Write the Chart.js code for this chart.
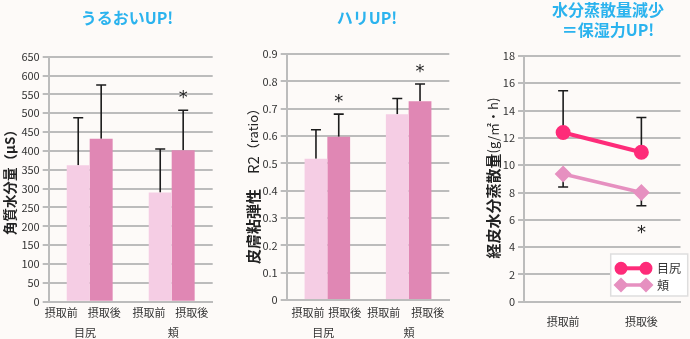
<!DOCTYPE html>
<html lang="ja">
<head>
<meta charset="utf-8">
<title>摂取前後の肌測定</title>
<script src="https://cdn.jsdelivr.net/npm/chart.js@4.4.1/dist/chart.umd.min.js"></script>
<style>
  html, body { margin: 0; padding: 0; background: #fdfaf8; }
  .row { display: flex; width: 690px; height: 339px; overflow: hidden; }
  .panel { width: 230px; height: 339px; }
  canvas { display: block; }
</style>
</head>
<body>
<div class="row">
  <div class="panel"><canvas id="moistChart" width="230" height="339"></canvas></div>
  <div class="panel"><canvas id="firmChart" width="230" height="339"></canvas></div>
  <div class="panel"><canvas id="tewlChart" width="230" height="339"></canvas></div>
</div>
<script>
const groups = ['目尻', '頬'];
const phases = ['摂取前', '摂取後'];

// 角質水分量 (μS)
const moistBefore = [362, 290];
const moistAfter = [432, 402];
const moistBeforeErr = [126, 115];
const moistAfterErr = [143, 106];
const moistBeforeSig = [false, false];
const moistAfterSig = [false, true];
const moistMax = 650;
const moistStep = 50;

// 皮膚粘弾性 R2 (ratio)
const firmBefore = [0.517, 0.68];
const firmAfter = [0.597, 0.727];
const firmBeforeErr = [0.106, 0.057];
const firmAfterErr = [0.083, 0.063];
const firmBeforeSig = [false, false];
const firmAfterSig = [true, true];
const firmMax = 0.9;
const firmStep = 0.1;

// 経皮水分蒸散量 (g/㎡・h)
const tewlEye = [12.4, 10.95];
const tewlCheek = [9.35, 8.0];
const tewlEyeErr = [3.05, 2.55];
const tewlCheekErr = [-0.95, -0.97];
const tewlEyeSig = [false, false];
const tewlCheekSig = [false, true];
const tewlMax = 18;
const tewlStep = 2;

const LIGHT = '#f5cde4';
const DARK = '#e087b4';
const EYE = '#fe2b79';
const CHEEK = '#e690c0';
const GRID = '#bcbcbc';
const INK = '#333333';
const HEAD = '#2bb3ee';
const JP = "'Noto Sans CJK JP', 'Noto Sans', sans-serif";

Chart.defaults.font.family = JP;
Chart.defaults.color = INK;

// vertical title made of runs with different weight / size
function drawSideTitle(ctx, x, cy, runs) {
  ctx.save();
  ctx.translate(x, cy);
  ctx.rotate(-Math.PI / 2);
  ctx.textBaseline = 'middle';
  ctx.textAlign = 'left';
  ctx.fillStyle = '#222';
  let total = 0;
  runs.forEach(r => { ctx.font = r.font; r.w = ctx.measureText(r.text).width; total += r.w; });
  let pos = -total / 2;
  runs.forEach(r => { ctx.font = r.font; ctx.fillText(r.text, pos, 0); pos += r.w; });
  ctx.restore();
}

function drawHeading(ctx, x, lines, top) {
  ctx.save();
  ctx.fillStyle = HEAD;
  ctx.font = 'bold 16px ' + JP;
  ctx.textAlign = 'center';
  ctx.textBaseline = 'middle';
  lines.forEach((t, i) => ctx.fillText(t, x, top + i * 20));
  ctx.restore();
}

// error whiskers (one-sided) and significance marks
const errorBars = {
  id: 'errorBars',
  beforeDatasetsDraw(chart) {
    const ctx = chart.ctx;
    const y = chart.scales.y;
    ctx.save();
    chart.data.datasets.forEach((ds, i) => {
      const meta = chart.getDatasetMeta(i);
      meta.data.forEach((el, j) => {
        const err = ds.errors[j];
        const y0 = y.getPixelForValue(ds.data[j]);
        const y1 = y.getPixelForValue(ds.data[j] + err);
        ctx.strokeStyle = '#1c1c1c';
        ctx.lineWidth = 1.6;
        ctx.beginPath();
        ctx.moveTo(el.x, y0);
        ctx.lineTo(el.x, y1);
        ctx.moveTo(el.x - 5, y1);
        ctx.lineTo(el.x + 5, y1);
        ctx.stroke();
        if (ds.sig[j]) {
          ctx.fillStyle = '#222';
          ctx.font = '18px DejaVu Sans';
          ctx.textAlign = 'center';
          ctx.textBaseline = 'middle';
          const ty = err > 0 ? y1 - 12 : y1 + 28;
          ctx.fillText('*', el.x, ty);
        }
      });
    });
    ctx.restore();
  }
};

// two-level category labels under the bars
const groupLabels = {
  id: 'groupLabels',
  afterDraw(chart, args, opts) {
    const ctx = chart.ctx;
    const x = chart.scales.x;
    ctx.save();
    ctx.fillStyle = INK;
    ctx.textAlign = 'center';
    ctx.textBaseline = 'middle';
    ctx.font = '11px ' + JP;
    groups.forEach((g, i) => {
      const cx = x.getPixelForValue(i);
      phases.forEach((p, k) => ctx.fillText(p, cx + opts.offsets[i][k], 313));
      ctx.fillText(g, cx + opts.groupShift[i], 333);
    });
    ctx.restore();
  }
};

const panelText = {
  id: 'panelText',
  afterDraw(chart, args, opts) {
    const ctx = chart.ctx;
    drawHeading(ctx, opts.headX, opts.heading, opts.headTop);
    drawSideTitle(ctx, opts.sideX, opts.sideY, opts.side);
  }
};

function barChart(id, before, after, beforeErr, afterErr, beforeSig, afterSig, max, step, box, text) {
  return new Chart(document.getElementById(id), {
    type: 'bar',
    data: {
      labels: groups,
      datasets: [
        { label: phases[0], data: before, errors: beforeErr, sig: beforeSig, backgroundColor: LIGHT },
        { label: phases[1], data: after, errors: afterErr, sig: afterSig, backgroundColor: DARK }
      ]
    },
    options: {
      responsive: false,
      animation: false,
      categoryPercentage: 0.56,
      barPercentage: 1.0,
      layout: { padding: { top: box.top, right: box.right, left: 0, bottom: 0 } },
      plugins: {
        legend: { display: false },
        tooltip: { enabled: false },
        groupLabels: { offsets: box.offsets, groupShift: box.groupShift },
        panelText: text
      },
      scales: {
        x: {
          grid: { display: false },
          border: { color: GRID, width: 2 },
          ticks: { display: false },
          afterFit(s) { s.height = box.bottom; }
        },
        y: {
          min: 0, max: max,
          ticks: { stepSize: step, color: INK, font: { size: 11 }, padding: 3 },
          grid: { color: GRID, lineWidth: 2, tickLength: 6 },
          border: { color: GRID, width: 2 },
          afterFit(s) { s.width = box.left; }
        }
      }
    },
    plugins: [errorBars, groupLabels, panelText]
  });
}

barChart('moistChart', moistBefore, moistAfter, moistBeforeErr, moistAfterErr,
  moistBeforeSig, moistAfterSig, moistMax, moistStep,
  { top: 56.7, right: 17.3, left: 48.7, bottom: 37.3,
    offsets: [[-28.5, 14.5], [-22.7, 20]], groupShift: [-4.7, 1.6] },
  { heading: ['うるおいUP!'], headX: 127, headTop: 18, sideX: 10, sideY: 179,
    side: [{ text: '角質水分量（μS）', font: 'bold 13.5px ' + JP }] });

barChart('firmChart', firmBefore, firmAfter, firmBeforeErr, firmAfterErr,
  firmBeforeSig, firmAfterSig, firmMax, firmStep,
  { top: 54, right: 10.7, left: 56.7, bottom: 39,
    offsets: [[-19.3, 17.4], [-24.8, 19.2]], groupShift: [-4, 0.4] },
  { heading: ['ハリUP!'], headX: 137, headTop: 18, sideX: 23, sideY: 183,
    side: [
      { text: '皮膚粘弾性', font: 'bold 15px ' + JP },
      { text: '　R2', font: '15px ' + JP },
      { text: '（ratio）', font: '13px ' + JP }
    ] });

// legend box drawn inside the plot, bottom right
const lineLegend = {
  id: 'lineLegend',
  afterDraw(chart) {
    const ctx = chart.ctx;
    ctx.save();
    ctx.fillStyle = '#ffffff';
    ctx.strokeStyle = '#dedede';
    ctx.lineWidth = 1.5;
    ctx.fillRect(150.7, 254, 77, 42);
    ctx.strokeRect(150.7, 254, 77, 42);
    chart.data.datasets.forEach((ds, i) => {
      const ly = 268.3 + i * 16.7;
      ctx.strokeStyle = ds.borderColor;
      ctx.lineWidth = ds.borderWidth;
      ctx.beginPath();
      ctx.moveTo(161, ly);
      ctx.lineTo(186, ly);
      ctx.stroke();
      [161, 186].forEach(px => {
        Chart.helpers.drawPoint(ctx, { pointStyle: ds.pointStyle, radius: ds.pointRadius - 1, borderWidth: 1 }, px, ly);
        ctx.fillStyle = ds.borderColor;
        ctx.fill();
      });
      ctx.fillStyle = INK;
      ctx.font = '12px ' + JP;
      ctx.textAlign = 'left';
      ctx.textBaseline = 'middle';
      ctx.fillText(ds.label, 197, ly);
    });
    ctx.restore();
  }
};

new Chart(document.getElementById('tewlChart'), {
  type: 'line',
  data: {
    labels: phases,
    datasets: [
      { label: groups[0], data: tewlEye, errors: tewlEyeErr, sig: tewlEyeSig,
        borderColor: EYE, backgroundColor: EYE, pointBackgroundColor: EYE, pointBorderColor: EYE,
        borderWidth: 4, pointStyle: 'circle', pointRadius: 5.5 },
      { label: groups[1], data: tewlCheek, errors: tewlCheekErr, sig: tewlCheekSig,
        borderColor: CHEEK, backgroundColor: CHEEK, pointBackgroundColor: CHEEK, pointBorderColor: CHEEK,
        borderWidth: 3.5, pointStyle: 'rectRot', pointRadius: 6 }
    ]
  },
  options: {
    responsive: false,
    animation: false,
    layout: { padding: { top: 56, right: 0, left: 0, bottom: 0 } },
    plugins: {
      legend: { display: false },
      tooltip: { enabled: false },
      panelText: {
        heading: ['水分蒸散量減少', '＝保湿力UP!'], headX: 148, headTop: 10, sideX: 33, sideY: 178,
        side: [
          { text: '経皮水分蒸散量', font: 'bold 15px ' + JP },
          { text: '(g/㎡・h)', font: '13px ' + JP }
        ]
      }
    },
    scales: {
      x: {
        offset: true,
        grid: { display: false },
        border: { color: GRID, width: 2 },
        ticks: { color: INK, font: { size: 11 }, padding: 6 },
        afterFit(s) { s.height = 37.3; }
      },
      y: {
        min: 0, max: tewlMax,
        ticks: { stepSize: tewlStep, color: INK, font: { size: 11 }, padding: 3 },
        grid: { color: GRID, lineWidth: 2, tickLength: 6 },
        border: { color: GRID, width: 2 },
        afterFit(s) { s.width = 64; }
      }
    }
  },
  plugins: [errorBars, panelText, lineLegend]
});
</script>
</body>
</html>
